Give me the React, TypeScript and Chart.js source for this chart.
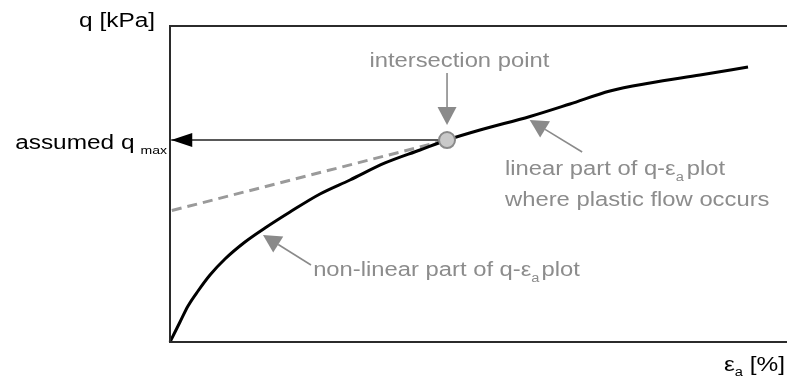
import React, { useEffect, useRef } from "react";
import { Chart, registerables } from "chart.js";

Chart.register(...registerables);

// axial strain ε_a [%] and deviator stress q [kPa] (arbitrary schematic units)
const strainValues = [0, 0.065, 0.162, 0.292, 0.454, 0.648, 0.891, 1.215, 1.54, 1.945, 2.431, 2.917, 3.485, 4.052, 4.489, 5.024, 5.835, 6.483, 7.131, 7.78, 8.59, 9.368];
const stressValues = [0, 2.53, 6.33, 11.39, 16.14, 21.2, 26.27, 31.65, 36.08, 41.14, 46.84, 51.27, 56.65, 60.76, 63.92, 67.09, 71.36, 75.32, 79.43, 81.96, 84.49, 87.03];

// dashed extrapolation of the linear part
const tangentStrain = [0.03, 4.49];
const tangentStress = [41.6, 63.92];

// intersection point and assumed q_max
const intersectionStrain = [4.49];
const intersectionStress = [63.92];
const qmaxLineStrain = [4.49, 0.02];
const qmaxLineStress = [63.92, 63.92];

// annotation arrows: [tailX, tailY, tipX, tipY] in data units
const arrowIntersection = [4.49, 85.13, 4.49, 68.67];
const arrowLinear = [6.68, 60.13, 5.83, 70.25];
const arrowNonLinear = [2.285, 24.37, 1.507, 33.86];

// annotation label anchors [x, y] in data units
const labelIntersection = [4.69, 87.03];
const labelLinear1 = [5.43, 52.85];
const labelLinear2 = [5.43, 42.88];
const labelNonLinear = [2.32, 20.73];

const X_MAX = 10;
const Y_MAX = 100;

const toPts = (xs: number[], ys: number[]) => xs.map((x, i) => ({ x, y: ys[i] }));

const FONT = '"Liberation Sans", Arial, sans-serif';
const HSCALE = 1.22;
const GRAY = "#8c8c8c";

type Run = { text: string; size: number; dy?: number; gap?: number };

function drawRuns(ctx: CanvasRenderingContext2D, runs: Run[], x: number, y: number, align: "left" | "right" | "center", color: string) {
  ctx.save();
  ctx.fillStyle = color;
  ctx.textAlign = "left";
  ctx.textBaseline = "alphabetic";
  const widths = runs.map((r) => {
    ctx.font = `${r.size}px ${FONT}`;
    return ctx.measureText(r.text).width * HSCALE + (r.gap || 0);
  });
  const total = widths.reduce((a, b) => a + b, 0);
  let cx = align === "left" ? x : align === "right" ? x - total : x - total / 2;
  runs.forEach((r, i) => {
    ctx.font = `${r.size}px ${FONT}`;
    ctx.save();
    ctx.translate(cx + (r.gap || 0), y + (r.dy || 0));
    ctx.scale(HSCALE, 1);
    ctx.fillText(r.text, 0, 0);
    ctx.restore();
    cx += widths[i];
  });
  ctx.restore();
}

function drawArrow(ctx: CanvasRenderingContext2D, x1: number, y1: number, x2: number, y2: number, color: string, lw: number, len: number, half: number) {
  const dx = x2 - x1;
  const dy = y2 - y1;
  const d = Math.hypot(dx, dy);
  const ux = dx / d;
  const uy = dy / d;
  const bx = x2 - ux * len;
  const by = y2 - uy * len;
  ctx.save();
  ctx.strokeStyle = color;
  ctx.fillStyle = color;
  ctx.lineWidth = lw;
  ctx.beginPath();
  ctx.moveTo(x1, y1);
  ctx.lineTo(bx, by);
  ctx.stroke();
  ctx.beginPath();
  ctx.moveTo(x2, y2);
  ctx.lineTo(bx - uy * half, by + ux * half);
  ctx.lineTo(bx + uy * half, by - ux * half);
  ctx.closePath();
  ctx.fill();
  ctx.restore();
}

const annotationPlugin = {
  id: "schematicAnnotations",
  afterDatasetsDraw(chart: any) {
    const ctx: CanvasRenderingContext2D = chart.ctx;
    const xs = chart.scales.x;
    const ys = chart.scales.y;
    const px = (v: number) => xs.getPixelForValue(v);
    const py = (v: number) => ys.getPixelForValue(v);
    const area = chart.chartArea;

    // frame: left, top and bottom axis lines
    ctx.save();
    ctx.strokeStyle = "#2b2b2b";
    ctx.lineWidth = 2;
    ctx.beginPath();
    ctx.moveTo(area.right, area.top);
    ctx.lineTo(area.left, area.top);
    ctx.lineTo(area.left, area.bottom);
    ctx.lineTo(area.right, area.bottom);
    ctx.stroke();
    ctx.restore();

    // q_max arrow head
    const hx = px(qmaxLineStrain[1]);
    const hy = py(qmaxLineStress[1]);
    ctx.save();
    ctx.fillStyle = "#000";
    ctx.beginPath();
    ctx.moveTo(hx, hy);
    ctx.lineTo(hx + 21, hy - 7);
    ctx.lineTo(hx + 21, hy + 7);
    ctx.closePath();
    ctx.fill();
    ctx.restore();

    // gray annotation arrows
    [arrowIntersection, arrowLinear, arrowNonLinear].forEach((a) => {
      drawArrow(ctx, px(a[0]), py(a[1]), px(a[2]), py(a[3]), "#8a8a8a", 1.6, 18, 9.5);
    });

    // gray labels
    drawRuns(ctx, [{ text: "intersection point", size: 19.5 }], px(labelIntersection[0]), py(labelIntersection[1]), "center", GRAY);
    drawRuns(
      ctx,
      [
        { text: "linear part of q-ε", size: 19.5 },
        { text: "a", size: 12, dy: 6 },
        { text: "plot", size: 19.5, gap: 3 },
      ],
      px(labelLinear1[0]),
      py(labelLinear1[1]),
      "left",
      GRAY
    );
    drawRuns(ctx, [{ text: "where plastic flow occurs", size: 19.5 }], px(labelLinear2[0]), py(labelLinear2[1]), "left", GRAY);
    drawRuns(
      ctx,
      [
        { text: "non-linear part of q-ε", size: 19.5 },
        { text: "a", size: 12, dy: 6 },
        { text: "plot", size: 19.5, gap: 2 },
      ],
      px(labelNonLinear[0]),
      py(labelNonLinear[1]),
      "left",
      GRAY
    );

    // axis titles
    drawRuns(ctx, [{ text: "q [kPa]", size: 20 }], area.left - 15, area.top + 1, "right", "#000");
    drawRuns(
      ctx,
      [
        { text: "assumed q", size: 20 },
        { text: "max", size: 11.5, dy: 4.5, gap: 6 },
      ],
      area.left - 3,
      hy + 9,
      "right",
      "#000"
    );
    drawRuns(
      ctx,
      [
        { text: "ε", size: 20 },
        { text: "a", size: 12, dy: 4.5 },
        { text: " [%]", size: 20 },
      ],
      area.right - 2,
      area.bottom + 29,
      "right",
      "#000"
    );
  },
};

export default function App() {
  const ref = useRef<HTMLCanvasElement | null>(null);

  useEffect(() => {
    if (!ref.current) return;
    const chart = new Chart(ref.current, {
      type: "scatter",
      data: {
        datasets: [
          {
            label: "intersection point",
            data: toPts(intersectionStrain, intersectionStress),
            pointRadius: 8,
            pointBackgroundColor: "#c9c9c9",
            pointBorderColor: "#8a8a8a",
            pointBorderWidth: 2,
            showLine: false,
            clip: false as any,
            order: 0,
          },
          {
            label: "q-εa",
            data: toPts(strainValues, stressValues),
            showLine: true,
            borderColor: "#000",
            borderWidth: 3,
            pointRadius: 0,
            cubicInterpolationMode: "monotone",
            clip: false as any,
            order: 1,
          },
          {
            label: "assumed qmax",
            data: toPts(qmaxLineStrain, qmaxLineStress),
            showLine: true,
            borderColor: "#222",
            borderWidth: 1.5,
            pointRadius: 0,
            clip: false as any,
            order: 2,
          },
          {
            label: "linear extrapolation",
            data: toPts(tangentStrain, tangentStress),
            showLine: true,
            borderColor: "#9a9a9a",
            borderWidth: 3,
            borderDash: [10, 6],
            pointRadius: 0,
            clip: false as any,
            order: 3,
          },
        ],
      },
      options: {
        responsive: false,
        animation: false,
        layout: { autoPadding: false, padding: { left: 170, top: 26, right: 0, bottom: 40 } },
        plugins: { legend: { display: false }, tooltip: { enabled: false } },
        scales: {
          x: { type: "linear", min: 0, max: X_MAX, display: false },
          y: { type: "linear", min: 0, max: Y_MAX, display: false },
        },
      },
      plugins: [annotationPlugin],
    });
    return () => chart.destroy();
  }, []);

  return (
    <div style={{ position: "fixed", left: 0, top: 0, width: 787, height: 382, background: "#fff" }}>
      <canvas ref={ref} width={787} height={382} style={{ width: 787, height: 382, display: "block" }} />
    </div>
  );
}
